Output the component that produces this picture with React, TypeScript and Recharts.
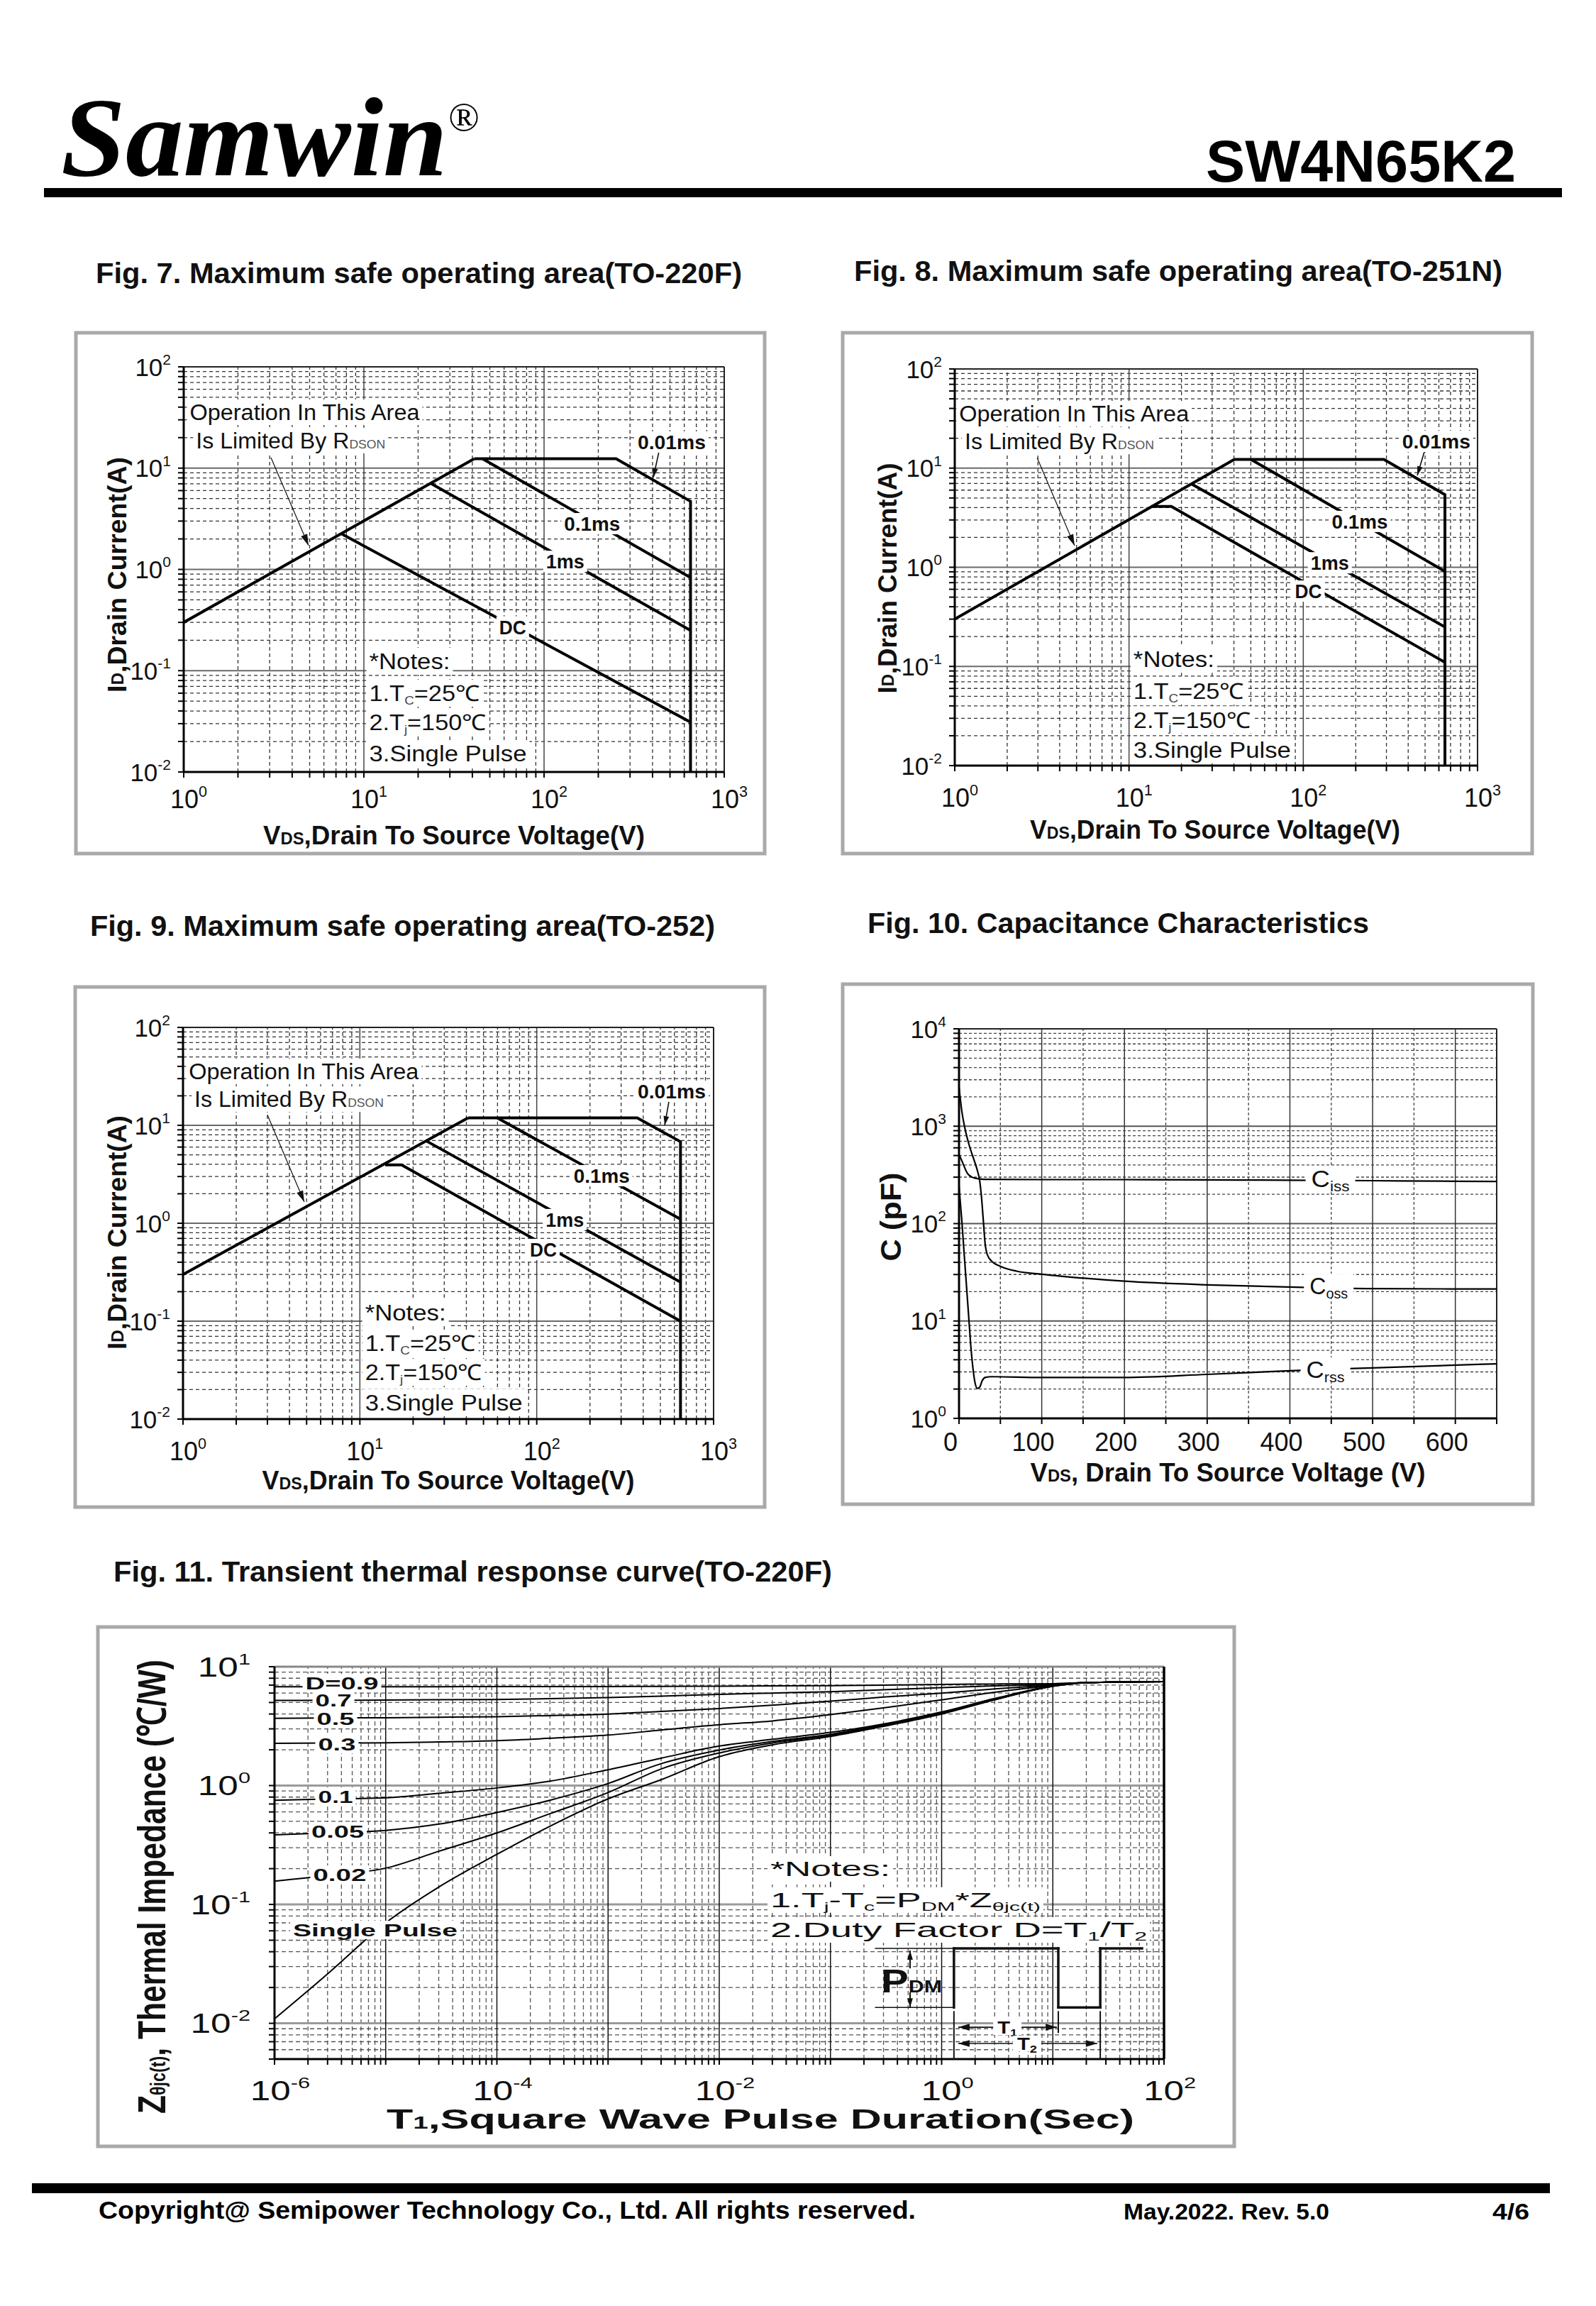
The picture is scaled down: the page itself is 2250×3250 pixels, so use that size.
import React from 'react';
import { LineChart, Line, XAxis, YAxis, ReferenceLine, ReferenceDot } from 'recharts';

const SANS = "'Liberation Sans', Arial, Helvetica, sans-serif";
const SERIF = "'Liberation Serif', 'Times New Roman', serif";
const INK = '#111';

// ---------------- Fig. 7  SOA (TO-220F) : VDS [V] -> ID [A]
const f7RdsV = [1, 41];
const f7RdsI = [0.3, 12.4];
const f7LimitV = [41, 251, 650, 650];
const f7LimitI = [12.4, 12.4, 4.7, 0.01];
const f7P100usV = [45.5, 650];
const f7P100usI = [12.4, 0.83];
const f7P1msV = [23.7, 650];
const f7P1msI = [7.0, 0.25];
const f7DcV = [7.5, 650];
const f7DcI = [2.25, 0.031];

// ---------------- Fig. 8  SOA (TO-251N)
const f8RdsV = [1, 40.2];
const f8RdsI = [0.3, 12.25];
const f8LimitV = [40.2, 290, 650, 650];
const f8LimitI = [12.25, 12.25, 5.4, 0.01];
const f8P100usV = [50, 650];
const f8P100usI = [12.25, 0.91];
const f8P1msV = [22.9, 650];
const f8P1msI = [6.9, 0.25];
const f8DcV = [13.4, 17.5, 650];
const f8DcI = [4.1, 4.1, 0.11];

// ---------------- Fig. 9  SOA (TO-252)
const f9RdsV = [1, 40.9];
const f9RdsI = [0.3, 11.9];
const f9LimitV = [40.9, 370, 650, 650];
const f9LimitI = [11.9, 11.9, 6.8, 0.01];
const f9P100usV = [59.8, 650];
const f9P100usI = [11.9, 1.1];
const f9P1msV = [23.5, 650];
const f9P1msI = [7.0, 0.25];
const f9DcV = [13.9, 17.2, 650];
const f9DcI = [3.95, 3.95, 0.1];

// curve tags (text, V, I)
const soaTags = ['0.01ms', '0.1ms', '1ms', 'DC'];
const soaTagW = [96, 79, 54, 38];
const f7TagV = [511, 185, 131, 67];
const f7TagI = [18.1, 2.83, 1.2, 0.27];
const f8TagV = [580, 211, 142, 107];
const f8TagI = [18.6, 2.9, 1.11, 0.575];
const f9TagV = [580, 233, 144, 109];
const f9TagI = [22.3, 3.06, 1.09, 0.54];

// ---------------- Fig. 10 capacitance : VDS [V] -> C [pF]
const cissV = [0, 3, 6, 10, 15, 20, 30, 100, 200, 300, 400, 500, 600, 650];
const cissC = [515, 450, 390, 330, 302, 292, 285, 283, 283, 281, 279, 276, 272, 271];
const cossV = [0, 3.3, 7.1, 12.5, 17.9, 21.7, 25, 27.1, 29.3, 31.5, 34.2, 39.6, 50.5, 69.5, 100, 151, 200, 300, 400, 500, 650];
const cossC = [2512, 1445, 955, 630, 457, 363, 275, 190, 110, 63, 48, 41, 36.3, 32.5, 30.2, 27.5, 25.6, 23.5, 22.3, 21.5, 21.3];
const crssV = [0, 3.3, 6, 8.7, 11.4, 14.1, 16.8, 19.5, 22.2, 25, 27.7, 31.5, 39.6, 100, 200, 300, 400, 500, 650];
const crssC = [240, 110, 52, 25, 12, 5.75, 3.3, 2.29, 2.03, 2.09, 2.4, 2.63, 2.68, 2.63, 2.63, 2.83, 3.08, 3.3, 3.63];
const capVTicks = [0, 50, 100, 150, 200, 250, 300, 350, 400, 450, 500, 550, 600, 650];
const capTags = ['iss', 'oss', 'rss'];
const capTagV = [449, 447, 443];
const capTagC = [290, 23, 3.18];

// ---------------- Fig. 11 transient thermal impedance : T1 [s] -> Zth [degC/W]
const zthT = [1e-6, 3e-6, 1e-5, 3e-5, 1e-4, 3e-4, 1e-3, 3e-3, 1e-2, 3e-2, 1e-1, 3e-1, 1, 3, 10, 20, 100];
const zthD09 = [6.78, 6.78, 6.78, 6.79, 6.8, 6.8, 6.81, 6.83, 6.86, 6.89, 6.93, 7.0, 7.1, 7.15, 7.2, 7.35, 7.48];
const zthD07 = [5.21, 5.22, 5.24, 5.27, 5.3, 5.38, 5.5, 5.65, 5.85, 6.0, 6.17, 6.4, 6.67, 6.9, 7.1, 7.35, 7.48];
const zthD05 = [3.68, 3.7, 3.72, 3.76, 3.8, 3.88, 4.0, 4.2, 4.45, 4.75, 5.13, 5.55, 6.0, 6.5, 7.0, 7.35, 7.48];
const zthD03 = [2.27, 2.28, 2.29, 2.33, 2.39, 2.5, 2.66, 2.93, 3.25, 3.5, 3.95, 4.5, 5.26, 6.1, 6.95, 7.35, 7.48];
const zthD01 = [0.753, 0.77, 0.79, 0.86, 0.955, 1.09, 1.36, 1.7, 2.15, 2.45, 2.8, 3.3, 4.16, 5.4, 6.9, 7.35, 7.48];
const zthD005 = [0.385, 0.4, 0.42, 0.474, 0.594, 0.753, 1.04, 1.53, 1.99, 2.35, 2.7, 3.25, 4.1, 5.35, 6.85, 7.35, 7.48];
const zthD002 = [0.157, 0.175, 0.202, 0.28, 0.4, 0.58, 0.873, 1.38, 1.88, 2.28, 2.65, 3.2, 4.05, 5.3, 6.85, 7.35, 7.48];
const zthSingle = [0.0109, 0.026, 0.07, 0.14, 0.264, 0.455, 0.773, 1.12, 1.75, 2.2, 2.59, 3.15, 4.0, 5.25, 6.85, 7.35, 7.48];
const zthTags = ['D=0.9', '0.7', '0.5', '0.3', '0.1', '0.05', '0.02', 'Single Pulse'];
const zthTagW = [103, 51, 53, 53, 49, 74, 75, 232];
const zthTagT = [4.04e-6, 3.39e-6, 3.54e-6, 3.64e-6, 3.54e-6, 3.7e-6, 3.86e-6, 8.05e-6];
const zthTagZ = [7.3, 5.24, 3.66, 2.23, 0.807, 0.412, 0.178, 0.061];

// ---------------- helpers
function logTicks(lo: number, hi: number, min?: number) {
  const out: number[] = [];
  for (let e = lo; e < hi; e++) for (let m = 1; m < 10; m++) out.push(Number((m * Math.pow(10, e)).toPrecision(6)));
  out.push(Math.pow(10, hi));
  return min ? out.filter((v) => v >= min - 1e-12) : out;
}
const isDecade = (v: number) => Math.abs(Math.log10(v) - Math.round(Math.log10(v))) < 1e-6;
const pts = (xs: number[], ys: number[]) => xs.map((x, i) => ({ x, y: ys[i] }));

function txt(content: React.ReactNode, o: { fs: number; w: number; bold?: boolean; anchor?: 'start' | 'middle'; bg?: boolean; bh?: number; pad?: number; fill?: string }) {
  return (q: any) => {
    const cx = q.cx, cy = q.cy;
    if (typeof cx !== 'number' || typeof cy !== 'number') return <g />;
    const x0 = o.anchor === 'start' ? cx : cx - o.w / 2;
    const bh = o.bh ?? o.fs * 1.05;
    const pad = o.pad ?? 4;
    return (
      <g>
        {o.bg !== false && <rect x={x0 - pad} y={cy - bh / 2} width={o.w + 2 * pad} height={bh} fill="#fff" />}
        <text x={x0} y={cy + o.fs * 0.36} fontFamily={SANS} fontSize={o.fs} fontWeight={o.bold ? 700 : 400} fill={o.fill ?? INK} textLength={o.w} lengthAdjust="spacingAndGlyphs">
          {content}
        </text>
      </g>
    );
  };
}

function arrowShape(head: 'none' | 'end' | 'both', w: number, hs: number) {
  return (q: any) => {
    const { x1, y1, x2, y2 } = q;
    if ([x1, y1, x2, y2].some((v) => typeof v !== 'number' || isNaN(v))) return <g />;
    const a = Math.atan2(y2 - y1, x2 - x1);
    const tri = (x: number, y: number, ang: number) => {
      const bx = x - hs * Math.cos(ang), by = y - hs * Math.sin(ang);
      const wx = hs * 0.3 * Math.sin(ang), wy = hs * 0.3 * Math.cos(ang);
      return `M${x},${y}L${bx + wx},${by - wy}L${bx - wx},${by + wy}Z`;
    };
    return (
      <g>
        <line x1={x1} y1={y1} x2={x2} y2={y2} stroke="#111" strokeWidth={w} strokeLinecap={head === 'none' ? 'square' : 'butt'} />
        {head !== 'none' && <path d={tri(x2, y2, a)} fill="#111" />}
        {head === 'both' && <path d={tri(x1, y1, a + Math.PI)} fill="#111" />}
      </g>
    );
  };
}

function powXTick(fs: number, dx: number, dy: number, sx: number, show: (v: number) => boolean) {
  return (p: any) => {
    const v = p.payload?.value;
    if (typeof v !== 'number' || !show(v)) return <g />;
    const e = Math.round(Math.log10(v));
    return (
      <g transform={`translate(${p.x + dx},${p.y + dy}) scale(${sx},1)`}>
        <text x={0} y={0} textAnchor="middle" fontFamily={SANS} fontSize={fs} fill={INK}>
          10<tspan dy={-fs * 0.45} fontSize={fs * 0.6}>{e}</tspan>
        </text>
      </g>
    );
  };
}
function powYTick(fs: number, dx: number, sx: number) {
  return (p: any) => {
    const v = p.payload?.value;
    if (typeof v !== 'number' || !isDecade(v)) return <g />;
    const e = Math.round(Math.log10(v));
    return (
      <g transform={`translate(${p.x + dx},${p.y + fs * 0.36}) scale(${sx},1)`}>
        <text x={0} y={0} textAnchor="end" fontFamily={SANS} fontSize={fs} fill={INK}>
          10<tspan dy={-fs * 0.45} fontSize={fs * 0.6}>{e}</tspan>
        </text>
      </g>
    );
  };
}
function linXTick(fs: number, dx: number, dy: number, show: (v: number) => boolean) {
  return (p: any) => {
    const v = p.payload?.value;
    if (typeof v !== 'number' || !show(v)) return <g />;
    return (
      <text x={p.x + dx} y={p.y + dy} textAnchor="middle" fontFamily={SANS} fontSize={fs} fill={INK}>
        {v}
      </text>
    );
  };
}

type Series = { xs: number[]; ys: number[]; w: number; curve?: 'linear' | 'monotone' };
type Ann = { x: number; y: number; shape: (p: any) => React.ReactElement };
type Seg = { x1: number; y1: number; x2: number; y2: number; w: number; head?: 'none' | 'end' | 'both'; hs?: number };
type Grid = { hMajor: [string, number]; vMajor: [string, number]; minor: [string, number, string] };

function Plot(p: {
  L: number; T: number; W: number; H: number;
  xLog: boolean; xDomain: [number, number]; yDomain: [number, number];
  xTicks: number[]; yTicks: number[];
  xMajor: number[]; xMinor: number[]; yMajor: number[]; yMinor: number[];
  xTick: (q: any) => React.ReactElement; yTick: (q: any) => React.ReactElement;
  grid: Grid; series: Series[]; anns: Ann[]; segs: Seg[];
  frameTop: [string, number]; frameRight: [string, number];
}) {
  const ML = 140, MT = 45, MR = 75, MB = 100;
  return (
    <div style={{ position: 'absolute', left: p.L - ML, top: p.T - MT }}>
      <LineChart width={p.W + ML + MR} height={p.H + MT + MB} margin={{ top: MT, right: MR, left: 0, bottom: 0 }}>
        <XAxis dataKey="x" type="number" scale={p.xLog ? 'log' : 'linear'} domain={p.xDomain} allowDataOverflow ticks={p.xTicks} interval={0}
          height={MB} tickSize={8} tickMargin={4} axisLine={{ stroke: '#000', strokeWidth: 3 }} tickLine={{ stroke: '#000', strokeWidth: 2 }} tick={p.xTick} />
        <YAxis dataKey="y" type="number" scale="log" domain={p.yDomain} allowDataOverflow ticks={p.yTicks} interval={0}
          width={ML} tickSize={8} tickMargin={10} axisLine={{ stroke: '#000', strokeWidth: 3 }} tickLine={{ stroke: '#000', strokeWidth: 2 }} tick={p.yTick} />
        {p.yMinor.map((v) => (
          <ReferenceLine key={`ym${v}`} y={v} stroke={p.grid.minor[0]} strokeWidth={p.grid.minor[1]} strokeDasharray={p.grid.minor[2]} zIndex={-100} />
        ))}
        {p.xMinor.map((v) => (
          <ReferenceLine key={`xm${v}`} x={v} stroke={p.grid.minor[0]} strokeWidth={p.grid.minor[1]} strokeDasharray={p.grid.minor[2]} zIndex={-100} />
        ))}
        {p.yMajor.map((v) => (
          <ReferenceLine key={`yM${v}`} y={v} stroke={p.grid.hMajor[0]} strokeWidth={p.grid.hMajor[1]} zIndex={-90} />
        ))}
        {p.xMajor.map((v) => (
          <ReferenceLine key={`xM${v}`} x={v} stroke={p.grid.vMajor[0]} strokeWidth={p.grid.vMajor[1]} zIndex={-90} />
        ))}
        <ReferenceLine y={p.yDomain[1]} stroke={p.frameTop[0]} strokeWidth={p.frameTop[1]} zIndex={-80} />
        <ReferenceLine x={p.xDomain[1]} stroke={p.frameRight[0]} strokeWidth={p.frameRight[1]} zIndex={-80} />
        {p.series.map((s, i) => (
          <Line key={`l${i}`} data={pts(s.xs, s.ys)} dataKey="y" type={s.curve ?? 'linear'} stroke="#000" strokeWidth={s.w}
            dot={false} activeDot={false} isAnimationActive={false} strokeLinejoin="miter" />
        ))}
        {p.segs.map((s, i) => (
          <ReferenceLine key={`s${i}`} segment={[{ x: s.x1, y: s.y1 }, { x: s.x2, y: s.y2 }]} ifOverflow="visible" zIndex={600}
            shape={arrowShape(s.head ?? 'none', s.w, s.hs ?? 14)} />
        ))}
        {p.anns.map((a, i) => (
          <ReferenceDot key={`a${i}`} x={a.x} y={a.y} r={0} ifOverflow="visible" zIndex={700} shape={a.shape} />
        ))}
      </LineChart>
    </div>
  );
}

// ---------------- SOA figure builder
const soaXTicks = logTicks(0, 3);
const soaYTicks = logTicks(-2, 2);
const soaXMajor = [10, 100];
const soaYMajor = [0.1, 1, 10];
const soaXMinor = soaXTicks.filter((v) => !isDecade(v));
const soaYMinor = soaYTicks.filter((v) => !isDecade(v));
const soaGrid: Grid = { hMajor: ['#6a6a6a', 2.2], vMajor: ['#444', 1.5], minor: ['#333', 1.3, '5 4'] };

function soaFig(cfg: {
  L: number; T: number; W: number; H: number; tickDy: number;
  series: Series[]; tagV: number[]; tagI: number[];
  op: [number, number]; is: [number, number]; opArrow: [number, number, number, number];
  tagArrow: [number, number, number, number]; noteV: number; noteI: number[];
}) {
  const anns: Ann[] = [
    ...soaTags.map((t, i) => ({ x: cfg.tagV[i], y: cfg.tagI[i], shape: txt(t, { fs: 28, w: soaTagW[i], bold: true, bh: 30 }) })),
    { x: cfg.op[0], y: cfg.op[1], shape: txt('Operation In This Area', { fs: 31, w: 324, anchor: 'start', bh: 36 }) },
    { x: cfg.is[0], y: cfg.is[1], shape: txt(<>Is Limited By R<tspan fontSize={17} fill="#555">DSON</tspan></>, { fs: 31, w: 267, anchor: 'start', bh: 36 }) },
    { x: cfg.noteV, y: cfg.noteI[0], shape: txt('*Notes:', { fs: 31, w: 114, anchor: 'start', bh: 38 }) },
    { x: cfg.noteV, y: cfg.noteI[1], shape: txt(<>1.T<tspan fontSize={17} dy={5} fill="#444">C</tspan><tspan dy={-5}>=25℃</tspan></>, { fs: 31, w: 156, anchor: 'start', bh: 38 }) },
    { x: cfg.noteV, y: cfg.noteI[2], shape: txt(<>2.T<tspan fontSize={17} dy={5} fill="#444">j</tspan><tspan dy={-5}>=150℃</tspan></>, { fs: 31, w: 165, anchor: 'start', bh: 38 }) },
    { x: cfg.noteV, y: cfg.noteI[3], shape: txt('3.Single Pulse', { fs: 31, w: 222, anchor: 'start', bh: 38 }) },
  ];
  const segs: Seg[] = [
    { x1: cfg.opArrow[0], y1: cfg.opArrow[1], x2: cfg.opArrow[2], y2: cfg.opArrow[3], w: 1.2, head: 'end', hs: 16 },
    { x1: cfg.tagArrow[0], y1: cfg.tagArrow[1], x2: cfg.tagArrow[2], y2: cfg.tagArrow[3], w: 1.6, head: 'end', hs: 13 },
  ];
  return (
    <Plot L={cfg.L} T={cfg.T} W={cfg.W} H={cfg.H} xLog xDomain={[1, 1000]} yDomain={[0.01, 100]}
      xTicks={soaXTicks} yTicks={soaYTicks} xMajor={soaXMajor} xMinor={soaXMinor} yMajor={soaYMajor} yMinor={soaYMinor}
      xTick={powXTick(36, 7, cfg.tickDy, 1, isDecade)} yTick={powYTick(35, 0, 1)} grid={soaGrid}
      series={cfg.series} anns={anns} segs={segs} frameTop={['#222', 2]} frameRight={['#222', 2]} />
  );
}

// ---------------- Fig. 10 builder
function capFig() {
  const yT = logTicks(0, 4);
  const anns: Ann[] = capTags.map((t, i) => ({
    x: capTagV[i], y: capTagC[i],
    shape: txt(<>C<tspan fontSize={21} dy={6}>{t}</tspan></>, { fs: 34, w: 54, bh: 34, pad: 8 }),
  }));
  return (
    <Plot L={1352} T={1450} W={758} H={549} xLog={false} xDomain={[0, 650]} yDomain={[1, 10000]}
      xTicks={capVTicks} yTicks={yT} xMajor={[100, 200, 300, 400, 500, 600]} xMinor={[50, 150, 250, 350, 450, 550]}
      yMajor={[10, 100, 1000]} yMinor={yT.filter((v) => !isDecade(v))}
      xTick={linXTick(36, -12, 34, (v) => v % 100 === 0 && v <= 600)} yTick={powYTick(35, 0, 1)}
      grid={{ hMajor: ['#555', 2], vMajor: ['#333', 1.5], minor: ['#444', 1.3, '4 3'] }}
      series={[
        { xs: cissV, ys: cissC, w: 2.2, curve: 'monotone' },
        { xs: cossV, ys: cossC, w: 2.2, curve: 'monotone' },
        { xs: crssV, ys: crssC, w: 2.2, curve: 'monotone' },
      ]}
      anns={anns} segs={[]} frameTop={['#222', 2]} frameRight={['#222', 2]} />
  );
}

// ---------------- Fig. 11 builder
function zthFig() {
  const xT = logTicks(-6, 2);
  const yT = logTicks(-3, 1, 0.005);
  const sub = (s: string) => <tspan fontSize={17} dy={5}>{s}</tspan>;
  const anns: Ann[] = [
    ...zthTags.map((t, i) => ({ x: zthTagT[i], y: zthTagZ[i], shape: txt(t, { fs: 24, w: zthTagW[i], bold: true, bh: 26 }) })),
    { x: 0.0288, y: 0.199, shape: txt('*Notes:', { fs: 29, w: 169, anchor: 'start', bh: 36 }) },
    { x: 0.0288, y: 0.109, shape: txt(<>1.T{sub('j')}<tspan dy={-5}>-T</tspan>{sub('c')}<tspan dy={-5}>=P</tspan>{sub('DM')}<tspan dy={-5}>*Z</tspan>{sub('θjc(t)')}</>, { fs: 29, w: 381, anchor: 'start', bh: 36 }) },
    { x: 0.0288, y: 0.061, shape: txt(<>2.Duty Factor D=T{sub('1')}<tspan dy={-5}>/T</tspan>{sub('2')}</>, { fs: 29, w: 531, anchor: 'start', bh: 36 }) },
    { x: 0.285, y: 0.023, shape: txt(<><tspan fontSize={46}>P</tspan><tspan fontSize={24}>DM</tspan></>, { fs: 46, w: 86, anchor: 'start', bold: true, bg: false }) },
    { x: 3.9, y: 0.00927, shape: txt(<>T<tspan fontSize={15} dy={4}>1</tspan></>, { fs: 24, w: 28, bold: true, bh: 22, pad: 6 }) },
    { x: 5.87, y: 0.00676, shape: txt(<>T<tspan fontSize={15} dy={4}>2</tspan></>, { fs: 24, w: 28, bold: true, bh: 22, pad: 6 }) },
  ];
  const segs: Seg[] = [
    { x1: 0.254, y1: 0.0427, x2: 1.29, y2: 0.0427, w: 1.5 },
    { x1: 0.254, y1: 0.0136, x2: 1.29, y2: 0.0136, w: 1.5 },
    { x1: 1.29, y1: 0.0136, x2: 1.29, y2: 0.0427, w: 3.5 },
    { x1: 1.29, y1: 0.0427, x2: 11.2, y2: 0.0427, w: 3.5 },
    { x1: 11.2, y1: 0.0427, x2: 11.2, y2: 0.0136, w: 3.5 },
    { x1: 11.2, y1: 0.0136, x2: 26.7, y2: 0.0136, w: 3.5 },
    { x1: 26.7, y1: 0.0136, x2: 26.7, y2: 0.0427, w: 3.5 },
    { x1: 26.7, y1: 0.0427, x2: 63.4, y2: 0.0427, w: 3.5 },
    { x1: 0.52, y1: 0.029, x2: 0.52, y2: 0.041, w: 2, head: 'end', hs: 13 },
    { x1: 0.52, y1: 0.0182, x2: 0.52, y2: 0.0136, w: 2, head: 'end', hs: 13 },
    { x1: 1.29, y1: 0.0125, x2: 1.29, y2: 0.005, w: 2 },
    { x1: 11.2, y1: 0.0125, x2: 11.2, y2: 0.0084, w: 2 },
    { x1: 26.7, y1: 0.0125, x2: 26.7, y2: 0.005, w: 2 },
    { x1: 1.41, y1: 0.00927, x2: 10.9, y2: 0.00927, w: 1.6, head: 'both', hs: 16 },
    { x1: 1.41, y1: 0.00676, x2: 25.1, y2: 0.00676, w: 1.6, head: 'both', hs: 16 },
  ];
  return (
    <Plot L={387} T={2349} W={1254} H={553} xLog xDomain={[1e-6, 100]} yDomain={[0.005, 10]}
      xTicks={xT} yTicks={yT} xMajor={[1e-5, 1e-4, 1e-3, 1e-2, 1e-1, 1, 10]} xMinor={xT.filter((v) => !isDecade(v))}
      yMajor={[0.01, 0.1, 1]} yMinor={yT.filter((v) => !isDecade(v))}
      xTick={powXTick(38, 8, 46, 1.35, (v) => isDecade(v) && Math.round(Math.log10(v)) % 2 === 0)} yTick={powYTick(38, -16, 1.35)}
      grid={{ hMajor: ['#9a9a9a', 3], vMajor: ['#111', 1.5], minor: ['#555', 1.3, '6 4'] }}
      series={[zthD09, zthD07, zthD05, zthD03, zthD01, zthD005, zthD002, zthSingle].map((ys) => ({ xs: zthT, ys, w: 2, curve: 'monotone' as const }))}
      anns={anns} segs={segs} frameTop={['#888', 3]} frameRight={['#000', 3.5]} />
  );
}

// ---------------- static page furniture
function Title({ x, y, len, children }: { x: number; y: number; len: number; children: React.ReactNode }) {
  return <text x={x} y={y} fontFamily={SANS} fontWeight={700} fontSize={41} fill={INK} textLength={len} lengthAdjust="spacingAndGlyphs">{children}</text>;
}
function YTitle({ cx, cy, len, fs, children }: { cx: number; cy: number; len: number; fs: number; children: React.ReactNode }) {
  return (
    <text transform={`translate(${cx},${cy}) rotate(-90)`} textAnchor="middle" dominantBaseline="central" fontFamily={SANS} fontWeight={700}
      fontSize={fs} fill={INK} textLength={len} lengthAdjust="spacingAndGlyphs">{children}</text>
  );
}
function XTitle({ cx, y, len, fs, children }: { cx: number; y: number; len: number; fs: number; children: React.ReactNode }) {
  return <text x={cx} y={y} textAnchor="middle" fontFamily={SANS} fontWeight={700} fontSize={fs} fill={INK} textLength={len} lengthAdjust="spacingAndGlyphs">{children}</text>;
}
const Box = ({ x, y, w, h }: { x: number; y: number; w: number; h: number }) => (
  <rect x={x} y={y} width={w} height={h} fill="none" stroke="#a9a9a9" strokeWidth={5} />
);
const vds = (fs: number) => <>V<tspan fontSize={fs}>DS</tspan></>;

export default function App() {
  return (
    <div style={{ position: 'absolute', left: 0, top: 0, width: 2250, height: 3250, background: '#fff', overflow: 'hidden' }}>
      <svg width={2250} height={3250} style={{ position: 'absolute', left: 0, top: 0 }}>
        {/* header */}
        <text x={86} y={247} fontFamily={SERIF} fontWeight={700} fontStyle="italic" fontSize={158} fill="#000" textLength={545} lengthAdjust="spacingAndGlyphs">Samwin</text>
        <text x={632} y={184} fontFamily={SERIF} fontSize={58} fill="#000">®</text>
        <text x={1700} y={256} fontFamily={SANS} fontWeight={700} fontSize={84} fill="#000" textLength={437} lengthAdjust="spacingAndGlyphs">SW4N65K2</text>
        <rect x={62} y={265} width={2140} height={13} fill="#000" />

        {/* figure boxes */}
        <Box x={107} y={469} w={971} h={734} />
        <Box x={1188} y={469} w={972} h={734} />
        <Box x={106} y={1391} w={972} h={733} />
        <Box x={1188} y={1387} w={973} h={733} />
        <Box x={138} y={2293} w={1602} h={732} />

        {/* titles */}
        <Title x={135} y={399} len={911}>Fig. 7. Maximum safe operating area(TO-220F)</Title>
        <Title x={1204} y={396} len={914}>Fig. 8. Maximum safe operating area(TO-251N)</Title>
        <Title x={127} y={1319} len={881}>Fig. 9. Maximum safe operating area(TO-252)</Title>
        <Title x={1223} y={1315} len={707}>Fig. 10. Capacitance Characteristics</Title>
        <Title x={160} y={2229} len={1013}>Fig. 11. Transient thermal response curve(TO-220F)</Title>

        {/* axis titles */}
        <YTitle cx={165} cy={810} len={332} fs={37}>I<tspan fontSize={24}>D</tspan>,Drain Current(A)</YTitle>
        <YTitle cx={1251} cy={815} len={325} fs={37}>I<tspan fontSize={24}>D</tspan>,Drain Current(A)</YTitle>
        <YTitle cx={165} cy={1737} len={330} fs={37}>I<tspan fontSize={24}>D</tspan>,Drain Current(A)</YTitle>
        <YTitle cx={1256} cy={1715} len={125} fs={40}>C  (pF)</YTitle>
        <YTitle cx={214} cy={2659} len={640} fs={55}>Z<tspan fontSize={30} dy={8}>θjc(t)</tspan><tspan dy={-8}>,  Thermal  Impedance (℃/W)</tspan></YTitle>
        <XTitle cx={640} y={1190} len={538} fs={37}>{vds(24)},Drain To Source Voltage(V)</XTitle>
        <XTitle cx={1713} y={1182} len={522} fs={37}>{vds(24)},Drain To Source Voltage(V)</XTitle>
        <XTitle cx={632} y={2099} len={525} fs={37}>{vds(24)},Drain To Source Voltage(V)</XTitle>
        <XTitle cx={1731} y={2088} len={557} fs={37}>{vds(24)}, Drain To Source Voltage (V)</XTitle>
        <XTitle cx={1072} y={3000} len={1054} fs={38}>T<tspan fontSize={24}>1</tspan>,Square Wave Pulse Duration(Sec)</XTitle>

        {/* footer */}
        <rect x={45} y={3077} width={2140} height={14} fill="#000" />
        <text x={139} y={3127} fontFamily={SANS} fontWeight={700} fontSize={35} fill="#000" textLength={1152} lengthAdjust="spacingAndGlyphs">Copyright@ Semipower Technology Co., Ltd. All rights reserved.</text>
        <text x={1584} y={3128} fontFamily={SANS} fontWeight={700} fontSize={31} fill="#000" textLength={290} lengthAdjust="spacingAndGlyphs">May.2022. Rev. 5.0</text>
        <text x={2104} y={3128} fontFamily={SANS} fontWeight={700} fontSize={31} fill="#000" textLength={52} lengthAdjust="spacingAndGlyphs">4/6</text>
      </svg>

      {soaFig({
        L: 259, T: 517, W: 762, H: 571, tickDy: 39,
        series: [
          { xs: f7RdsV, ys: f7RdsI, w: 4 }, { xs: f7LimitV, ys: f7LimitI, w: 4 }, { xs: f7P100usV, ys: f7P100usI, w: 4 },
          { xs: f7P1msV, ys: f7P1msI, w: 4 }, { xs: f7DcV, ys: f7DcI, w: 4 },
        ],
        tagV: f7TagV, tagI: f7TagI, op: [1.08, 35.6], is: [1.17, 18.7], opArrow: [3.05, 12.7, 4.93, 1.72],
        tagArrow: [434, 14.5, 404, 8.07], noteV: 10.7, noteI: [0.124, 0.06, 0.031, 0.0152],
      })}
      {soaFig({
        L: 1346, T: 520, W: 737, H: 559, tickDy: 46,
        series: [
          { xs: f8RdsV, ys: f8RdsI, w: 4 }, { xs: f8LimitV, ys: f8LimitI, w: 4 }, { xs: f8P100usV, ys: f8P100usI, w: 4 },
          { xs: f8P1msV, ys: f8P1msI, w: 4 }, { xs: f8DcV, ys: f8DcI, w: 4 },
        ],
        tagV: f8TagV, tagI: f8TagI, op: [1.06, 35.4], is: [1.14, 18.6], opArrow: [2.97, 12.7, 4.87, 1.65],
        tagArrow: [499, 15.3, 451, 8.45], noteV: 10.6, noteI: [0.118, 0.057, 0.029, 0.0144],
      })}
      {soaFig({
        L: 258, T: 1448, W: 748, H: 552, tickDy: 46,
        series: [
          { xs: f9RdsV, ys: f9RdsI, w: 4 }, { xs: f9LimitV, ys: f9LimitI, w: 4 }, { xs: f9P100usV, ys: f9P100usI, w: 4 },
          { xs: f9P1msV, ys: f9P1msI, w: 4 }, { xs: f9DcV, ys: f9DcI, w: 4 },
        ],
        tagV: f9TagV, tagI: f9TagI, op: [1.08, 35.5], is: [1.16, 18.5], opArrow: [3.0, 12.8, 4.85, 1.65],
        tagArrow: [560, 17.8, 529, 10], noteV: 10.7, noteI: [0.122, 0.0596, 0.03, 0.0147],
      })}
      {capFig()}
      {zthFig()}
    </div>
  );
}
